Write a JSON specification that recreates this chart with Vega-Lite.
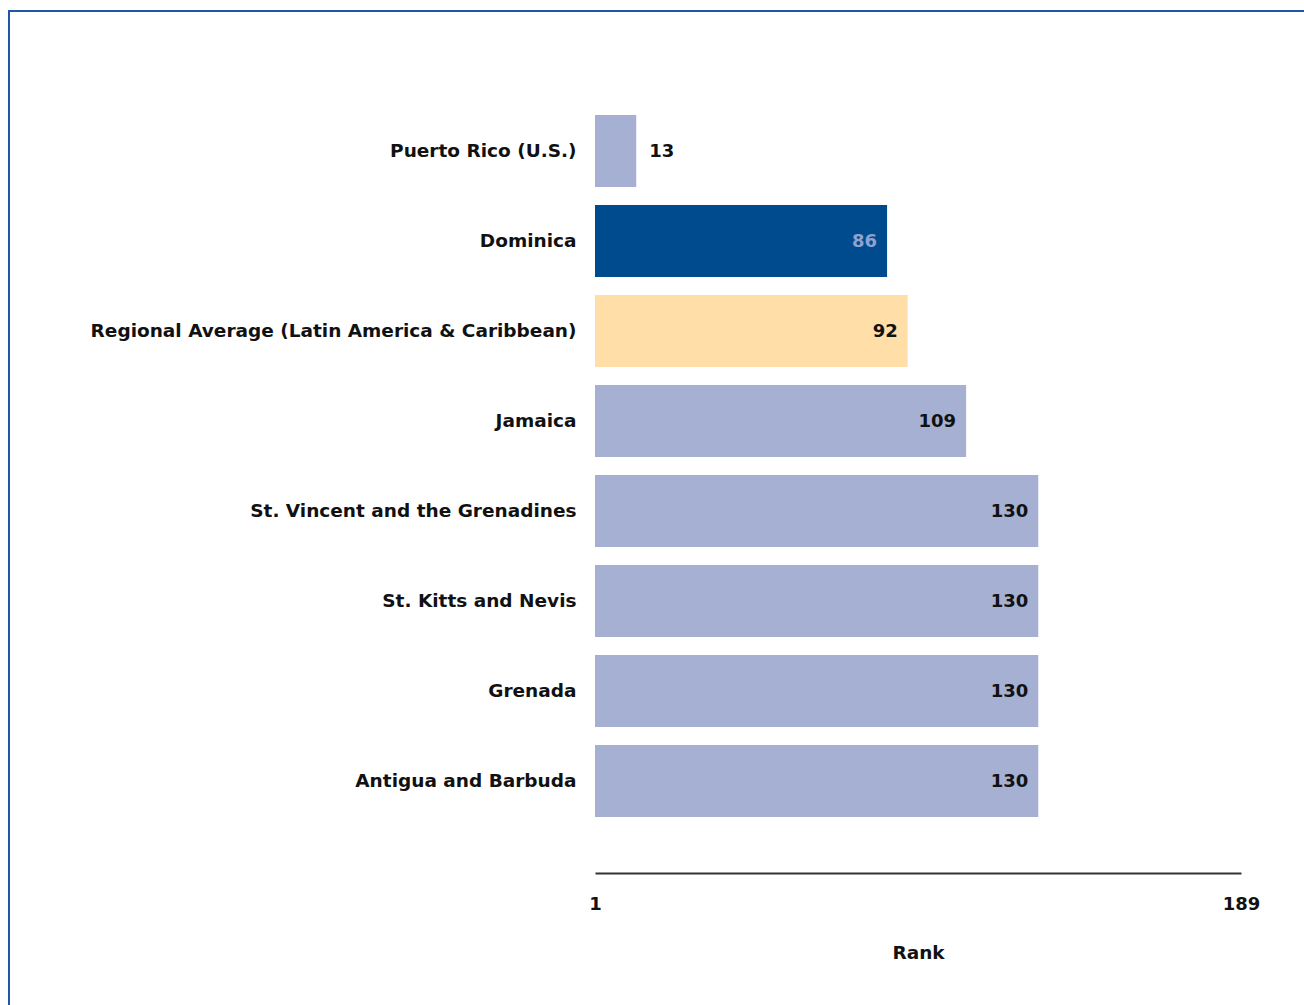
{
  "$schema": "https://vega.github.io/schema/vega-lite/v6.json",
  "width": 1300,
  "height": 1000,
  "autosize": {"type": "none"},
  "padding": {"left": 9, "top": 11, "right": 0, "bottom": 0},
  "background": "white",
  "config": {
    "view": {"stroke": "#1c58a4", "strokeWidth": 2},
    "font": "DejaVu Sans"
  },
  "data": {
    "values": [
      {"name": "Puerto Rico (U.S.)", "rank": 13, "group": "Other"},
      {"name": "Dominica", "rank": 86, "group": "Dominica"},
      {"name": "Regional Average (Latin America & Caribbean)", "rank": 92, "group": "Average"},
      {"name": "Jamaica", "rank": 109, "group": "Other"},
      {"name": "St. Vincent and the Grenadines", "rank": 130, "group": "Other"},
      {"name": "St. Kitts and Nevis", "rank": 130, "group": "Other"},
      {"name": "Grenada", "rank": 130, "group": "Other"},
      {"name": "Antigua and Barbuda", "rank": 130, "group": "Other"}
    ]
  },
  "encoding": {
    "y": {
      "field": "name",
      "type": "nominal",
      "sort": null,
      "scale": {"range": [95, 815], "paddingInner": 0.2, "paddingOuter": 0.1},
      "axis": {
        "orient": "left",
        "offset": -586,
        "domain": false,
        "ticks": false,
        "labelPadding": 19,
        "labelFontSize": 18.5,
        "labelFontWeight": "bold",
        "labelColor": "#111111",
        "labelLimit": 700,
        "labelOffset": 0,
        "title": null
      }
    }
  },
  "layer": [
    {
      "mark": {"type": "bar"},
      "encoding": {
        "x": {
          "field": "rank",
          "type": "quantitative",
          "scale": {"domain": [1, 189], "range": [586, 1232], "nice": false, "zero": false},
          "axis": {
            "orient": "bottom",
            "offset": -138,
            "values": [1, 189],
            "ticks": false,
            "grid": false,
            "domainColor": "#333333",
            "domainWidth": 2,
            "labelFlush": false,
            "labelPadding": 22,
            "labelFontSize": 18,
            "labelFontWeight": "bold",
            "labelColor": "#111111",
            "title": "Rank",
            "titleFontSize": 18.5,
            "titleFontWeight": "bold",
            "titleColor": "#111111",
            "titlePadding": 30
          }
        },
        "x2": {"datum": 1},
        "color": {
          "field": "group",
          "type": "nominal",
          "scale": {"domain": ["Other", "Dominica", "Average"], "range": ["#a5b0d2", "#004b8d", "#ffdea8"]},
          "legend": null
        }
      }
    },
    {
      "transform": [{"filter": "datum.rank >= 20"}],
      "mark": {"type": "text", "align": "right", "baseline": "middle", "dx": -10, "dy": 1, "fontSize": 18, "fontWeight": "bold"},
      "encoding": {
        "x": {"field": "rank", "type": "quantitative"},
        "text": {"field": "rank", "type": "quantitative"},
        "color": {"condition": {"test": "datum.group === 'Dominica'", "value": "#8ea3cf"}, "value": "#111111"}
      }
    },
    {
      "transform": [{"filter": "datum.rank < 20"}],
      "mark": {"type": "text", "align": "left", "baseline": "middle", "dx": 13, "dy": 1, "fontSize": 18, "fontWeight": "bold", "color": "#111111"},
      "encoding": {
        "x": {"field": "rank", "type": "quantitative"},
        "text": {"field": "rank", "type": "quantitative"}
      }
    }
  ]
}
